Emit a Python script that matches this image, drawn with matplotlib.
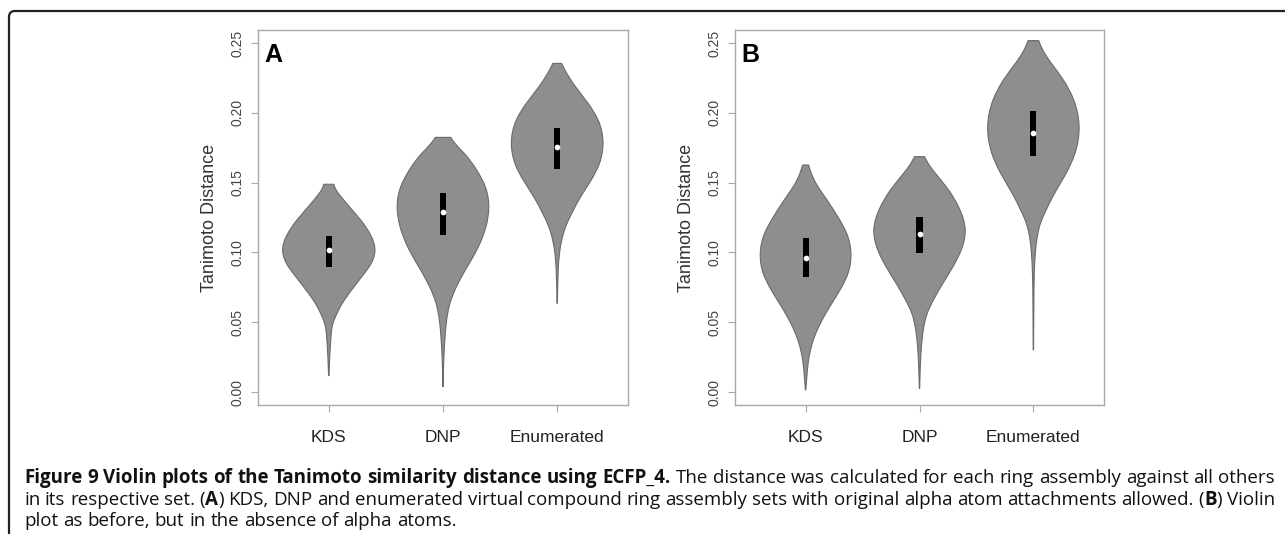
import matplotlib
matplotlib.use('Agg')
import matplotlib.pyplot as plt
import numpy as np
from matplotlib.path import Path
from matplotlib.patches import PathPatch, FancyBboxPatch
from matplotlib.transforms import IdentityTransform

groups = ['KDS', 'DNP', 'Enumerated']
y_ticks = [0.00, 0.05, 0.10, 0.15, 0.20, 0.25]
y_tick_labels = ['0.00', '0.05', '0.10', '0.15', '0.20', '0.25']

# violin outlines: y value and half width (x units)
a_kds_y = [0.1488, 0.1452, 0.1416, 0.1356, 0.1236, 0.1115, 0.1019, 0.0923,
           0.0827, 0.0731, 0.0635, 0.0538, 0.0490, 0.0394, 0.0250, 0.0118]
a_kds_w = [0.044, 0.061, 0.091, 0.150, 0.275, 0.372, 0.404, 0.372,
           0.290, 0.200, 0.118, 0.058, 0.036, 0.019, 0.008, 0.002]
a_dnp_y = [0.1824, 0.1781, 0.1710, 0.1590, 0.1471, 0.1328, 0.1184, 0.0993,
           0.0874, 0.0755, 0.0635, 0.0516, 0.0396, 0.0277, 0.0038]
a_dnp_w = [0.067, 0.105, 0.185, 0.295, 0.370, 0.401, 0.376, 0.280,
           0.196, 0.118, 0.061, 0.032, 0.018, 0.009, 0.0015]
a_enum_y = [0.2354, 0.2307, 0.2187, 0.2068, 0.1948, 0.1781, 0.1638, 0.1519,
            0.1399, 0.1280, 0.1184, 0.1089, 0.0993, 0.0874, 0.0635]
a_enum_w = [0.038, 0.067, 0.160, 0.270, 0.358, 0.401, 0.370, 0.298,
            0.206, 0.128, 0.074, 0.040, 0.020, 0.009, 0.0015]

b_kds_y = [0.1626, 0.1566, 0.1495, 0.1375, 0.1256, 0.1137, 0.0993, 0.0850,
           0.0731, 0.0611, 0.0492, 0.0396, 0.0301, 0.0205, 0.0110, 0.0014]
b_kds_w = [0.026, 0.050, 0.091, 0.188, 0.282, 0.360, 0.398, 0.372,
           0.302, 0.212, 0.130, 0.078, 0.043, 0.022, 0.011, 0.0015]
b_dnp_y = [0.1686, 0.1638, 0.1566, 0.1447, 0.1328, 0.1160, 0.1017, 0.0898,
           0.0778, 0.0659, 0.0564, 0.0468, 0.0372, 0.0253, 0.0158, 0.0026]
b_dnp_w = [0.044, 0.076, 0.140, 0.255, 0.342, 0.401, 0.366, 0.294,
           0.205, 0.122, 0.068, 0.038, 0.022, 0.011, 0.006, 0.0015]
b_enum_y = [0.2517, 0.2450, 0.2354, 0.2235, 0.2092, 0.1901, 0.1710, 0.1566,
            0.1423, 0.1304, 0.1208, 0.1113, 0.0993, 0.0850, 0.0635, 0.0301]
b_enum_w = [0.047, 0.082, 0.158, 0.263, 0.354, 0.401, 0.365, 0.287,
            0.186, 0.112, 0.062, 0.034, 0.017, 0.008, 0.004, 0.0015]

# box (25%-75%) and median
a_q1 = [0.0894, 0.1125, 0.1595]
a_q3 = [0.1115, 0.1423, 0.1889]
a_med = [0.1017, 0.1287, 0.1753]
b_q1 = [0.0821, 0.0993, 0.1691]
b_q3 = [0.1101, 0.1251, 0.2015]
b_med = [0.0958, 0.1134, 0.1858]

W, H = 1285, 534
AXIS_GREY = '#a8a8a8'
TEXT_DARK = '#222222'


def spline_slopes(y, w):
    # slopes of a natural cubic spline w(y), used to draw a smooth outline
    n = len(y)
    h = np.diff(y)
    d = np.diff(w) / h
    A = np.zeros((n, n))
    r = np.zeros(n)
    A[0, 0], A[0, 1], r[0] = 2, 1, 3 * d[0]
    A[-1, -2], A[-1, -1], r[-1] = 1, 2, 3 * d[-1]
    for i in range(1, n - 1):
        A[i, i - 1] = h[i]
        A[i, i] = 2 * (h[i - 1] + h[i])
        A[i, i + 1] = h[i - 1]
        r[i] = 3 * (h[i] * d[i - 1] + h[i - 1] * d[i])
    return np.linalg.solve(A, r)


def side_curve(ys, ws, pos, sign):
    y = np.asarray(ys, float)
    w = np.asarray(ws, float)
    m = spline_slopes(y, w)
    verts = []
    for k in range(len(y) - 1):
        h = y[k + 1] - y[k]
        c1 = (w[k] + m[k] * h / 3, y[k] + h / 3)
        c2 = (w[k + 1] - m[k + 1] * h / 3, y[k + 1] - h / 3)
        verts += [c1, c2, (w[k + 1], y[k + 1])]
    return [(pos + sign * vx, vy) for vx, vy in verts]


def draw_violin(ax, pos, ys, ws):
    right = side_curve(ys, ws, pos, 1)
    left = side_curve(ys[::-1], ws[::-1], pos, -1)
    verts = [(pos + ws[0], ys[0])] + right + [(pos - ws[-1], ys[-1])] + left
    codes = ([Path.MOVETO] + [Path.CURVE4] * len(right) + [Path.LINETO]
             + [Path.CURVE4] * len(left))
    verts.append(verts[0])
    codes.append(Path.CLOSEPOLY)
    ax.add_patch(PathPatch(Path(verts, codes), facecolor='#8e8e8e',
                           edgecolor='#6a6a6a', lw=0.8, zorder=2))


def draw_panel(ax, profiles, q1, q3, med, letter):
    positions = [1, 2, 3]
    for pos, (ys, ws) in zip(positions, profiles):
        draw_violin(ax, pos, ys, ws)
    ax.bar(positions, np.array(q3) - np.array(q1), bottom=q1, width=0.053,
           color='black', zorder=3)
    ax.scatter(positions, med, s=17, color='white', zorder=4, linewidths=0)

    ax.set_xlim(0.38, 3.62)
    ax.set_ylim(-0.0093, 0.2593)
    ax.set_xticks(positions)
    ax.set_xticklabels(groups, fontsize=12.5, color=TEXT_DARK)
    ax.set_yticks(y_ticks)
    ax.set_yticklabels(y_tick_labels, fontsize=10, color='#444444',
                       rotation=90, va='center')
    ax.tick_params(axis='x', length=5, color=AXIS_GREY, pad=13)
    ax.tick_params(axis='y', length=5, color=AXIS_GREY, pad=5)
    for sp in ax.spines.values():
        sp.set_color(AXIS_GREY)
        sp.set_linewidth(1.0)
    ax.set_ylabel('Tanimoto Distance', fontsize=13, color='#333333', labelpad=9)
    ax.text(0.018, 0.965, letter, transform=ax.transAxes, fontsize=18,
            fontweight='bold', va='top', ha='left', color='black')


plt.rcParams['font.family'] = ['Liberation Sans', 'DejaVu Sans']

fig = plt.figure(figsize=(W / 100, H / 100), dpi=100)
ax_a = fig.add_axes([258 / W, (H - 405) / H, 370 / W, 375 / H])
ax_b = fig.add_axes([735 / W, (H - 405) / H, 369 / W, 375 / H])

draw_panel(ax_a, [(a_kds_y, a_kds_w), (a_dnp_y, a_dnp_w), (a_enum_y, a_enum_w)],
           a_q1, a_q3, a_med, 'A')
draw_panel(ax_b, [(b_kds_y, b_kds_w), (b_dnp_y, b_dnp_w), (b_enum_y, b_enum_w)],
           b_q1, b_q3, b_med, 'B')

# frame of the figure box (only top and left edges are visible)
frame = FancyBboxPatch((9, -40), W + 60, H - 11 + 40,
                       boxstyle='round,pad=0,rounding_size=6',
                       transform=IdentityTransform(), facecolor='none',
                       edgecolor='#222222', lw=1.6)
fig.add_artist(frame)

# caption, justified word by word so bold parts sit inline
cap_font = ['Open Sans', 'DejaVu Sans']
renderer = fig.canvas.get_renderer()

line1 = [('Figure 9 Violin plots of the Tanimoto similarity distance using ECFP_4.', True),
         (' The distance was calculated for each ring assembly against all others', False)]
line2 = [('in its respective set. (', False), ('A', True),
         (') KDS, DNP and enumerated virtual compound ring assembly sets with original alpha atom attachments allowed. (', False),
         ('B', True), (') Violin', False)]
line3 = [('plot as before, but in the absence of alpha atoms.', False)]


def split_words(pieces):
    words = [[]]
    for txt, bold in pieces:
        for j, part in enumerate(txt.split(' ')):
            if j > 0:
                words.append([])
            if part:
                words[-1].append((part, bold))
    return [w for w in words if w]


def caption_line(pieces, x0, y, size, x1=None):
    words = split_words(pieces)
    placed, widths = [], []
    for word in words:
        texts, width = [], 0.0
        for txt, bold in word:
            t = fig.text(0, 1 - y / H, txt, fontsize=size, family=cap_font,
                         fontweight='bold' if bold else 'normal',
                         color='#111111', va='center', ha='left')
            wpx = t.get_window_extent(renderer).width
            texts.append((t, wpx))
            width += wpx
        placed.append(texts)
        widths.append(width)
    space = size * 100 / 72 * 0.26
    natural = sum(widths) + space * (len(words) - 1)
    if x1 is not None and len(words) > 1:
        space = (x1 - x0 - sum(widths)) / (len(words) - 1)
    x = x0
    for texts in placed:
        for t, wpx in texts:
            t.set_x(x / W)
            x += wpx
        x += space
    return natural, placed


# size the caption so the first line fills the width like the original
probe, probe_texts = caption_line(line1, 24, 478, 10.0)
for texts in probe_texts:
    for t, _ in texts:
        t.remove()
cap_size = 10.0 * 1251 / probe

caption_line(line1, 24, 478, cap_size, 1275)
caption_line(line2, 24, 500, cap_size, 1275)
caption_line(line3, 24, 521, cap_size)

fig.savefig('out.png', dpi=100)
